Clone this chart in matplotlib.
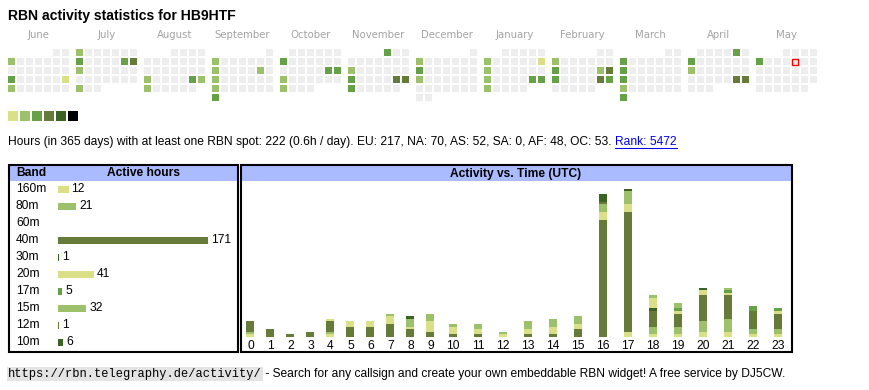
import calendar
import datetime as dt
import numpy as np
import matplotlib.pyplot as plt
from matplotlib.patches import Rectangle
from matplotlib.transforms import blended_transform_factory

# ---- data ----
title = "RBN activity statistics for HB9HTF"
months = [(2024, m) for m in range(6, 13)] + [(2025, m) for m in range(1, 6)]
today = "2025-05-09"

active_days = ["2024-06-03", "2024-06-17", "2024-06-23", "2024-06-24",
               "2024-07-01", "2024-07-08", "2024-07-13", "2024-07-14", "2024-07-15", "2024-07-29",
               "2024-08-19", "2024-08-24", "2024-08-25", "2024-08-26",
               "2024-09-02", "2024-09-09", "2024-09-14", "2024-09-16", "2024-09-23", "2024-09-30",
               "2024-10-07", "2024-10-19", "2024-10-20", "2024-10-21", "2024-10-28",
               "2024-11-01", "2024-11-11", "2024-11-18", "2024-11-23", "2024-11-24", "2024-11-25",
               "2024-12-02", "2024-12-09", "2024-12-16",
               "2025-01-06", "2025-01-12", "2025-01-13", "2025-01-20", "2025-01-25", "2025-01-26", "2025-01-27",
               "2025-02-03", "2025-02-10", "2025-02-15", "2025-02-16", "2025-02-17", "2025-02-22", "2025-02-23",
               "2025-03-03", "2025-03-10", "2025-03-17", "2025-03-24", "2025-03-31",
               "2025-04-05", "2025-04-07", "2025-04-14", "2025-04-26", "2025-04-27",
               "2025-05-05"]
active_levels = [2, 3, 1, 2,
                 2, 3, 3, 4, 2, 2,
                 2, 3, 2, 2,
                 2, 2, 2, 2, 2, 3,
                 3, 3, 3, 2, 2,
                 3, 2, 3, 4, 4, 3,
                 2, 3, 2,
                 2, 1, 2, 2, 3, 3, 2,
                 2, 3, 2, 4, 3, 4, 3,
                 3, 3, 3, 2, 3,
                 3, 3, 2, 4, 4,
                 3]

info_text = ("Hours (in 365 days) with at least one RBN spot: 222 (0.6h / day). "
             "EU: 217, NA: 70, AS: 52, SA: 0, AF: 48, OC: 53. ")
rank_text = "Rank: 5472"

bands = ["160m", "80m", "60m", "40m", "30m", "20m", "17m", "15m", "12m", "10m"]
band_hours = [12, 21, 0, 171, 1, 41, 5, 32, 1, 6]

hours = list(range(24))
hourly = {
    "160m": [1, 0, 0, 0, 1, 0, 0, 0, 0, 0, 0, 0, 0, 0, 0, 0, 0, 2, 1, 1, 2, 2, 1, 1],
    "80m":  [1, 0, 0, 0, 1, 0, 0, 0, 0, 0, 0, 0, 0, 0, 0, 0, 0, 0, 3, 3, 4, 5, 2, 2],
    "60m":  [0] * 24,
    "40m":  [4, 3, 1, 2, 4, 4, 4, 5, 3, 2, 1, 1, 0, 1, 1, 3, 45, 46, 6, 5, 10, 9, 7, 6],
    "30m":  [0, 0, 0, 0, 0, 0, 0, 0, 0, 0, 0, 0, 0, 0, 0, 0, 0, 0, 1, 0, 0, 0, 0, 0],
    "20m":  [0, 0, 0, 0, 1, 2, 2, 3, 1, 4, 3, 2, 1, 2, 3, 2, 3, 3, 4, 1, 2, 1, 0, 1],
    "17m":  [0, 0, 0, 0, 0, 0, 0, 0, 0, 0, 0, 0, 0, 0, 0, 0, 0, 0, 0, 1, 0, 1, 2, 1],
    "15m":  [0, 0, 0, 0, 0, 0, 0, 1, 3, 3, 1, 2, 1, 3, 3, 3, 3, 5, 1, 2, 0, 1, 0, 0],
    "12m":  [0, 0, 0, 0, 0, 0, 0, 0, 0, 0, 0, 0, 0, 0, 0, 0, 1, 0, 0, 0, 0, 0, 0, 0],
    "10m":  [0, 0, 0, 0, 0, 0, 0, 0, 1, 0, 0, 0, 0, 0, 0, 0, 3, 1, 0, 0, 1, 0, 0, 0],
}

footer_url = "https://rbn.telegraphy.de/activity/"
footer_text = " - Search for any callsign and create your own embeddable RBN widget! A free service by DJ5CW."

# ---- styles ----
levels = ["#eeeeee", "#d9e088", "#9dc06b", "#66a047", "#667a3a", "#3b6324", "#000000"]
band_colors = [levels[1], levels[2], levels[3], levels[4], levels[5],
               levels[1], levels[3], levels[2], levels[4], levels[5]]
header_bg = "#aabbff"
SANS = "Liberation Sans"
FS = 8.65

W, H = 870, 390
fig = plt.figure(figsize=(W / 100, H / 100), dpi=100)
fig.patch.set_facecolor("white")


def px_axes(x0, y0, x1, y1):
    # pixel box (top-left origin) -> axes
    return fig.add_axes([x0 / W, 1 - y1 / H, (x1 - x0) / W, (y1 - y0) / H])


canvas = px_axes(0, 0, W, H)
canvas.set_xlim(0, W)
canvas.set_ylim(H, 0)
canvas.axis("off")

canvas.text(8, 16, title, fontsize=10.1, fontweight="bold", family=SANS, va="center")

# calendar heatmap: one 7-wide block per month, rows = weeks
day_level = {d: l for d, l in zip(active_days, active_levels)}
for k, (yr, mo) in enumerate(months):
    x0 = 8 + 68 * k
    first_wd, ndays = calendar.monthrange(yr, mo)
    for d in range(1, ndays + 1):
        r, c = divmod(first_wd + d - 1, 7)
        key = dt.date(yr, mo, d).isoformat()
        canvas.add_patch(Rectangle((x0 + 9 * c, 49 + 9 * r), 7, 7,
                                   fc=levels[day_level.get(key, 0)], lw=0))
        if key == today:
            canvas.add_patch(Rectangle((x0 + 9 * c + 0.5, 49.5 + 9 * r), 6, 6,
                                       fc="none", ec="red", lw=1.0))
    canvas.text(x0 + 30.5, 35, calendar.month_name[mo], fontsize=7.3,
                color="#a3a3a3", ha="center", va="center", family="DejaVu Sans")

for i, col in enumerate(levels[1:]):
    canvas.add_patch(Rectangle((8 + 12 * i, 111), 10, 10, fc=col, lw=0))

# info line
t = canvas.text(8, 142, info_text, fontsize=FS, family=SANS, va="center")
fig.canvas.draw()
bb = t.get_window_extent()
rank_x = 8 + bb.width
canvas.text(rank_x, 142, rank_text, fontsize=FS, family=SANS, va="center", color="#0000ee")
rb = canvas.texts[-1].get_window_extent(fig.canvas.get_renderer())
canvas.plot([rank_x, rank_x + rb.width], [147.5, 147.5], color="#0000ee", lw=0.75)

# boxes
canvas.add_patch(Rectangle((10, 166), 227, 15, fc=header_bg, lw=0))
canvas.add_patch(Rectangle((242, 166), 549, 15, fc=header_bg, lw=0))
canvas.add_patch(Rectangle((9, 165), 229, 187, fc="none", ec="black", lw=1.5))
canvas.add_patch(Rectangle((241, 165), 551, 187, fc="none", ec="black", lw=1.5))
canvas.text(16, 173.5, "Band", fontsize=FS, fontweight="bold", family=SANS, va="center")
canvas.text(144, 173.5, "Active hours", fontsize=FS, fontweight="bold", family=SANS,
            va="center", ha="center")
canvas.text(516, 173.5, "Activity vs. Time (UTC)", fontsize=FS, fontweight="bold",
            family=SANS, va="center", ha="center")

# band table bars
bax = px_axes(58, 180.5, 208, 350.5)
bax.set_xlim(0, max(band_hours))
bax.set_ylim(len(bands) - 0.5, -0.5)
bax.axis("off")
bax.patch.set_alpha(0)
y = np.arange(len(bands))
bax.barh(y, band_hours, height=7 / 17, color=band_colors, linewidth=0)
mix = blended_transform_factory(canvas.transData, bax.transData)
for i, (b, v) in enumerate(zip(bands, band_hours)):
    bax.text(16, i, b, transform=mix, fontsize=FS, family=SANS, va="center")
    if v > 0:
        bax.annotate(str(v), (v, i), xytext=(3, 0), textcoords="offset pixels",
                     fontsize=FS, family=SANS, va="center", annotation_clip=False)

# activity vs time
widths = np.array([20 if h < 10 else 25 for h in hours])
centers = np.cumsum(widths) - widths / 2
aax = px_axes(240.5, 181, 240.5 + widths.sum(), 337)
aax.set_xlim(0, widths.sum())
aax.set_ylim(0, 60)
aax.patch.set_alpha(0)
for s in aax.spines.values():
    s.set_visible(False)
aax.set_yticks([])
aax.set_xticks(centers, [str(h) for h in hours], fontsize=FS, family=SANS)
aax.tick_params(axis="x", length=0, pad=2.5)
bottom = np.zeros(24)
for b, col in zip(bands, band_colors):
    vals = np.array(hourly[b])
    aax.bar(centers, vals, width=8, bottom=bottom, color=col, linewidth=0)
    bottom += vals

# footer
canvas.text(8, 374, footer_url, fontsize=8.65, family="Liberation Mono", va="center",
            bbox=dict(fc="#e4e4e4", ec="none", pad=1.0))
fb = canvas.texts[-1].get_window_extent(fig.canvas.get_renderer())
canvas.text(8 + fb.width, 374, footer_text, fontsize=FS, family=SANS, va="center")

fig.savefig("out.png", dpi=100)
